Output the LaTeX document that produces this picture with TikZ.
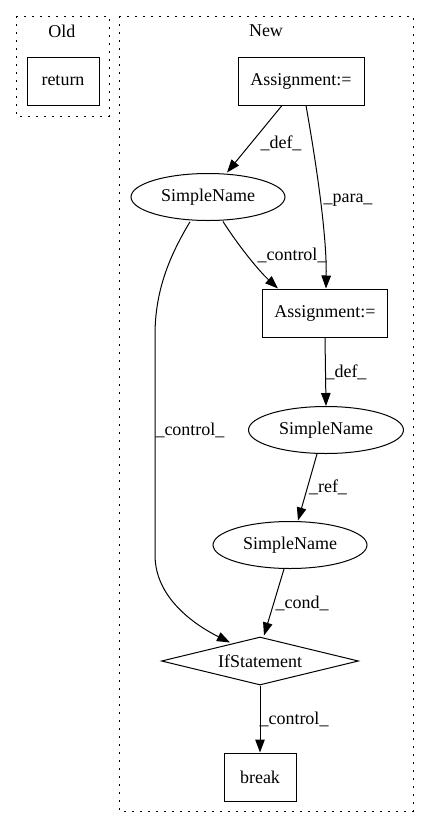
\documentclass[tikz,border=0pt]{standalone}
\usepackage{fontspec}
\setmainfont{Liberation Serif}
\usetikzlibrary{shapes.geometric,arrows.meta}
\begin{document}
\begin{tikzpicture}[x=1pt,y=-1pt,
  every node/.style={font=\fontsize{18}{21}\selectfont},
  box/.style={draw,line width=1pt,rectangle,minimum height=48pt,inner sep=0pt},
  oval/.style={draw,line width=1pt,ellipse,minimum width=154pt,minimum height=47pt,inner sep=0pt},
  dia/.style={draw,line width=1pt,diamond,aspect=4.1,minimum width=197pt,minimum height=48pt,inner sep=0pt},
  cluster/.style={draw,line width=1pt,dash pattern=on 2pt off 6pt},
  arr/.style={draw,line width=1pt,-{Triangle[length=13pt,width=9.5pt]}},
  lbl/.style={inner sep=0pt}]
\useasboundingbox (0,0) rectangle (429,828);
% clusters
\draw[cluster] (16,16) rectangle (109,116);
\node (oldlbl) at (62,31) {Old};
\draw[cluster] (119,16) rectangle (413,811);
\node (newlbl) at (266,31) {New};
% nodes
\node[box,minimum width=72pt] (ret) at (63,81) {return};
\node[box,minimum width=126pt] (a1) at (301,81) {Assignment:=};
\node[oval] (s1) at (208,197) {SimpleName};
\node[box,minimum width=125pt] (a2) at (325,313) {Assignment:=};
\node[oval,minimum width=155pt] (s2) at (326,430) {SimpleName};
\node[oval] (s3) at (290,545) {SimpleName};
\node[dia] (if) at (260,661) {IfStatement};
\node[box,minimum width=72pt] (brk) at (260,777) {break};
% edges
\draw[arr] ([xshift=-19pt]a1.south) -- ([xshift=19pt,yshift=0.5pt]s1.north)
  node[lbl] at (281,143) {\_def\_};
\draw[arr] ([xshift=5pt]a1.south) .. controls (313,145) and (327,230) .. ([xshift=1pt]a2.north)
  node[lbl] at (348,200) {\_para\_};
\draw[arr] ([xshift=15pt,yshift=-0.5pt]s1.south) .. controls (238,245) and (258,270) .. ([xshift=-47pt]a2.north)
  node[lbl] at (292,255) {\_control\_};
\draw[arr] ([xshift=-18pt,yshift=-0.8pt]s1.south) .. controls (170,255) and (155,290) .. (155,335)
  -- (155,555) .. controls (155,598) and (195,625) .. ([xshift=-30pt,yshift=-6pt]if.north)
  node[lbl,anchor=west] at (155,430) {\_control\_};
\draw[arr] (a2.south) -- (s2.north)
  node[lbl] at (346,372) {\_def\_};
\draw[arr] ([xshift=-9pt]s2.south) -- ([xshift=8pt,yshift=0.5pt]s3.north)
  node[lbl] at (328,487) {\_ref\_};
\draw[arr] ([xshift=-6pt]s3.south) -- ([xshift=4pt,yshift=1pt]if.north)
  node[lbl] at (302,603) {\_cond\_};
\draw[arr] (if.south) -- (brk.north)
  node[lbl] at (294,719) {\_control\_};
\end{tikzpicture}
\end{document}
